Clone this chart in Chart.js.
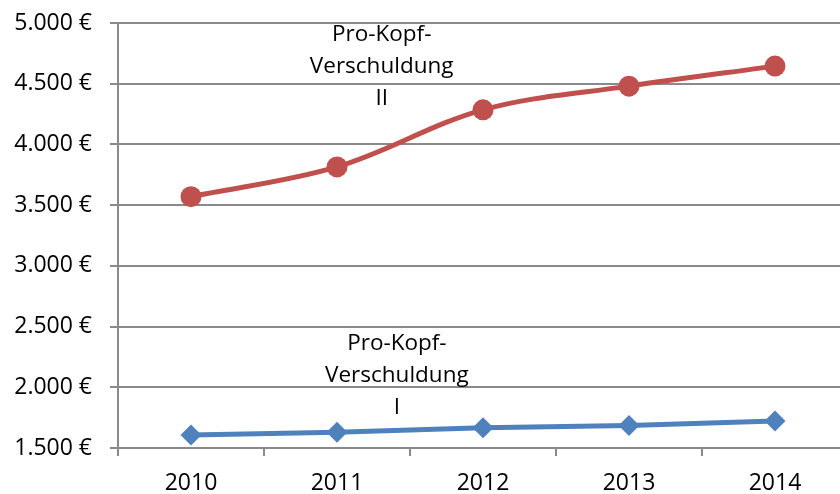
<!DOCTYPE html>
<html>
<head>
<meta charset="utf-8">
<script src="https://cdn.jsdelivr.net/npm/chart.js@4"></script>
<style>
  html, body { margin: 0; padding: 0; background: #fff; overflow: hidden; }
  #wrap { width: 850px; height: 494px; }
</style>
</head>
<body>
<div id="wrap"><canvas id="c" width="850" height="494" style="width:850px;height:494px"></canvas></div>
<script>
const years = ['2010', '2011', '2012', '2013', '2014'];
const seriesII = [3570, 3815, 4285, 4480, 4645];
const seriesI = [1607, 1630, 1667, 1685, 1722];
const yTickValues = [1500, 2000, 2500, 3000, 3500, 4000, 4500, 5000];
const labelIILines = ['Pro-Kopf-', 'Verschuldung', 'II'];
const labelILines = ['Pro-Kopf-', 'Verschuldung', 'I'];

function euro(v) {
  const s = String(Math.round(v));
  return s.replace(/\B(?=(\d{3})+(?!\d))/g, '.') + ' €';
}

const annotations = [
  { lines: labelIILines, x: 1.306, y: 4852 },
  { lines: labelILines, x: 1.41, y: 2307 }
];

const textPlugin = {
  id: 'seriesText',
  afterDatasetsDraw(chart) {
    const ctx = chart.ctx;
    const xs = chart.scales.x, ys = chart.scales.y;
    ctx.save();
    ctx.font = '22.5px "Open Sans"';
    ctx.fillStyle = '#000';
    ctx.textAlign = 'center';
    ctx.textBaseline = 'alphabetic';
    annotations.forEach(a => {
      const px = xs.getPixelForValue(a.x);
      const py = ys.getPixelForValue(a.y);
      a.lines.forEach((t, i) => ctx.fillText(t, px, py + i * 32));
    });
    ctx.restore();
  }
};

const gridColor = '#8a8a8a';

new Chart(document.getElementById('c'), {
  type: 'line',
  data: {
    labels: years,
    datasets: [
      {
        label: 'Pro-Kopf-Verschuldung II',
        data: seriesII,
        borderColor: '#C0504D',
        backgroundColor: '#C0504D',
        borderWidth: 5,
        tension: 0.35,
        pointStyle: 'circle',
        pointRadius: 10.5,
        pointBorderWidth: 0,
        fill: false
      },
      {
        label: 'Pro-Kopf-Verschuldung I',
        data: seriesI,
        borderColor: '#4F81BD',
        backgroundColor: '#4F81BD',
        borderWidth: 5,
        tension: 0,
        pointStyle: 'rectRot',
        pointRadius: 10.5,
        pointBorderWidth: 0,
        fill: false
      }
    ]
  },
  options: {
    responsive: false,
    animation: false,
    layout: { autoPadding: false, padding: { top: 23, right: 2, left: 0, bottom: 0 } },
    plugins: { legend: { display: false }, tooltip: { enabled: false } },
    scales: {
      x: {
        offset: true,
        grid: { offset: true, drawOnChartArea: false, drawTicks: true, tickLength: 8, color: gridColor, lineWidth: 2 },
        border: { display: true, color: gridColor, width: 2 },
        ticks: { color: '#000', font: { family: 'Open Sans', size: 23 }, padding: 14, maxRotation: 0 },
        afterFit(scale) { scale.height = 46; }
      },
      y: {
        min: 1500,
        max: 5000,
        afterBuildTicks(scale) { scale.ticks = yTickValues.map(v => ({ value: v })); },
        grid: { drawOnChartArea: true, drawTicks: true, tickLength: 8, color: gridColor, lineWidth: 2 },
        border: { display: true, color: gridColor, width: 2 },
        ticks: { color: '#000', font: { family: 'Open Sans', size: 23, lineHeight: 0.4 }, padding: 18, callback: v => euro(v) },
        afterFit(scale) { scale.width = 118; }
      }
    }
  },
  plugins: [textPlugin]
});
</script>
</body>
</html>
